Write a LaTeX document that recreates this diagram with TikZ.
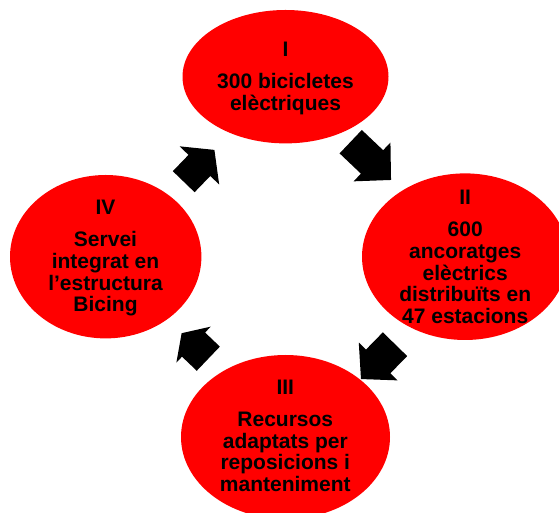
\documentclass[tikz,border=0pt]{standalone}
\usepackage{fontspec}
\setmainfont{Liberation Sans}
\usetikzlibrary{shapes.geometric}
\newcommand\blkarrow[6]{%
  \fill[blk, shift={(#1)}, rotate=#2]
    (0,{-#5/2}) -- (#3,{-#5/2}) -- (#3,{-#6/2}) -- ({#3+#4},0)
    -- (#3,{#6/2}) -- (#3,{#5/2}) -- (0,{#5/2}) -- cycle;}
\begin{document}
\begin{tikzpicture}[x=1pt,y=1pt,
  bubble/.style={ellipse, fill=red, draw=none, inner sep=0pt},
  bubtext/.style={align=center, anchor=north, inner sep=0pt,
    font=\fontsize{21}{21.7}\selectfont\bfseries, text=black},
  blk/.style={fill=black, draw=none}]
\useasboundingbox (0,0) rectangle (559,513);
\clip (0,0) rectangle (559,513);
% ellipses
\node[bubble, minimum width=206pt, minimum height=133.4pt] (e1) at (285.5,436.3) {};
\node[bubble, minimum width=206pt, minimum height=166.6pt] (e2) at (465,256.3) {};
\node[bubble, minimum width=209pt, minimum height=164pt] (e3) at (285.5,76) {};
\node[bubble, minimum width=191.4pt, minimum height=163.4pt] (e4) at (105.7,256.3) {};
% texts
\node[bubtext] (t1) at (285.5,471.3) {I\\[10.3pt]300 bicicletes\\elèctriques};
\node[bubtext] (t2) at (465.2,323) {II\\[10.3pt]600\\ancoratges\\elèctrics\\distribuïts en\\47 estacions};
\node[bubtext] (t3) at (285.3,133.2) {III\\[10.3pt]Recursos\\adaptats per\\reposicions i\\manteniment};
\node[bubtext] (t4) at (105.5,313) {IV\\[10.3pt]Servei\\integrat en\\l’estructura\\Bicing};
% block arrows
\coordinate (a1) at (350.7,371.3);
\coordinate (a2) at (395,168.8);
\coordinate (a3) at (208.3,154.3);
\coordinate (a4) at (183.7,331.3);
\blkarrow{a1}{-43.5}{29.4}{26.2}{32.3}{53.5}
\blkarrow{a2}{-134.3}{24.1}{24.6}{34}{54.2}
\blkarrow{a3}{136.3}{20.4}{16.5}{33.4}{49.7}
\blkarrow{a4}{46}{22.6}{21.6}{30.3}{55}
\end{tikzpicture}
\end{document}
